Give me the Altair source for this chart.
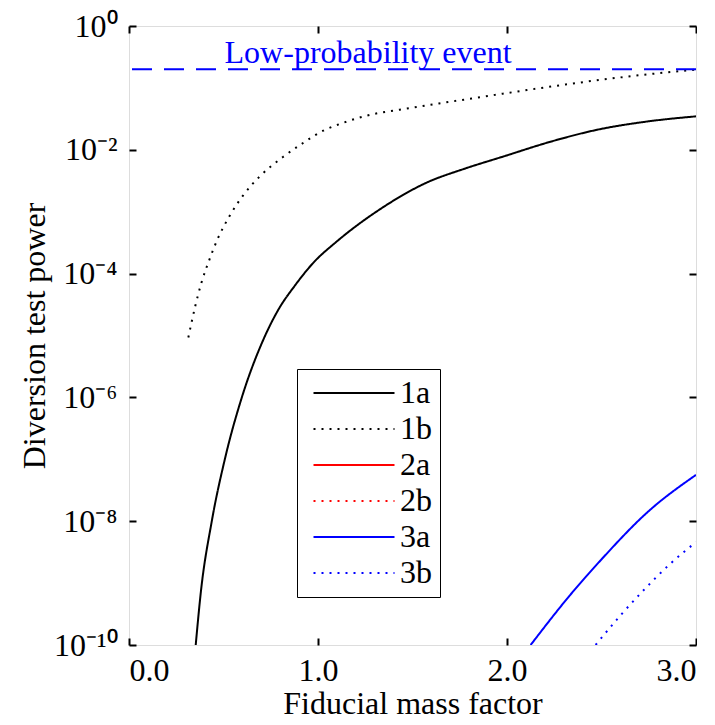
import altair as alt
import pandas as pd

FONT = "Liberation Serif"

series_names = ["1a", "1b", "2a", "2b", "3a", "3b"]
series_colors = ["#000000", "#000000", "#ff0000", "#ff0000", "#0000ff", "#0000ff"]
series_dashes = [[1, 0], [2, 6], [1, 0], [2, 6], [1, 0], [2, 6]]

x_1a = [0.353, 0.380, 0.438, 0.507, 0.597, 0.705, 0.793, 0.876, 0.980, 1.094, 1.329, 1.575, 1.78, 1.984, 2.23, 2.478, 2.74, 3.00]
y_1a = [1e-10, 7.1e-10, 1e-8, 1e-7, 1e-6, 7.8e-6, 2.7e-5, 6.3e-5, 1.55e-4, 3.2e-4, 1.10e-3, 2.95e-3, 5.0e-3, 7.85e-3, 1.35e-2, 2.11e-2, 2.86e-2, 3.47e-2]

x_1b = [0.314, 0.351, 0.384, 0.426, 0.469, 0.532, 0.603, 0.695, 0.813, 0.926, 1.028, 1.136, 1.243, 1.50, 1.772, 2.04, 2.302, 2.725, 3.00]
y_1b = [9.3e-6, 3.02e-5, 7.24e-5, 1.70e-4, 3.63e-4, 8.51e-4, 1.82e-3, 3.80e-3, 7.59e-3, 1.32e-2, 2.04e-2, 2.75e-2, 3.47e-2, 4.79e-2, 6.46e-2, 8.61e-2, 0.1127, 0.1633, 0.1968]

# series 2a / 2b lie entirely below the plotted range
x_2a, y_2a = [], []
x_2b, y_2b = [], []

x_3a = [2.125, 2.33, 2.499, 2.749, 3.00]
y_3a = [1e-10, 6.2e-10, 2.4e-9, 1.45e-8, 5.6e-8]

x_3b = [2.469, 2.60, 2.725, 2.86, 3.00]
y_3b = [1e-10, 3.0e-10, 7.8e-10, 2.0e-9, 4.6e-9]

threshold_value = [0.2]
threshold_label = ["Low-probability event"]
threshold_label_x = [1.265]

x_ticks = [0, 1, 2, 3]
y_ticks = [1, 1e-2, 1e-4, 1e-6, 1e-8, 1e-10]
y_tick_labels_by_exp = ["10⁰", "10⁻¹", "10⁻²", "10⁻³", "10⁻⁴", "10⁻⁵",
                        "10⁻⁶", "10⁻⁷", "10⁻⁸", "10⁻⁹", "10⁻¹⁰"]

rows = []
for name, xs, ys in [("1a", x_1a, y_1a), ("1b", x_1b, y_1b), ("2a", x_2a, y_2a),
                     ("2b", x_2b, y_2b), ("3a", x_3a, y_3a), ("3b", x_3b, y_3b)]:
    for i, (xv, yv) in enumerate(zip(xs, ys)):
        rows.append({"series": name, "x": xv, "y": yv, "order": i})
df = pd.DataFrame(rows)

W, H = 567, 619

xscale = alt.Scale(domain=[0, 3], nice=False, zero=False)
yscale = alt.Scale(type="log", domain=[1e-10, 1], nice=False)

label_arr = "[" + ",".join("'" + s + "'" for s in y_tick_labels_by_exp) + "]"
label_expr = label_arr + "[round(-log(datum.value)/LN10)]"

color_scale = alt.Scale(domain=series_names, range=series_colors)
dash_scale = alt.Scale(domain=series_names, range=series_dashes)

legend = alt.Legend(
    orient="none", legendX=168, legendY=343, title=None,
    symbolType="M-4,0H4", symbolSize=410, symbolStrokeWidth=2,
    symbolOffset=33, labelOffset=30,
    labelFont=FONT, labelFontSize=32, labelColor="black",
    fillColor="white", strokeColor="black", padding=8, rowPadding=4,
)

lines = alt.Chart(df).mark_line(strokeWidth=2, clip=True, interpolate="monotone").encode(
    x=alt.X("x:Q", scale=xscale, axis=alt.Axis(
        orient="bottom", values=x_ticks, format=".1f", title="Fiducial mass factor",
        ticks=False, domain=False, grid=False, labelPadding=10, titlePadding=2,
        labelFont=FONT, labelFontSize=32, titleFont=FONT, titleFontSize=32,
        titleFontWeight="normal", labelColor="black", titleColor="black")),
    y=alt.Y("y:Q", scale=yscale, axis=alt.Axis(
        orient="left", values=y_ticks, labelExpr=label_expr, title="Diversion test power",
        ticks=False, domain=False, grid=False, labelPadding=12,
        labelFont=FONT, labelFontSize=32, titleFont=FONT, titleFontSize=32,
        titleFontWeight="normal", labelColor="black", titleColor="black",
        titleX=-78, titleY=H / 2, titleAngle=270, titleAlign="center", titleBaseline="bottom")),
    color=alt.Color("series:N", scale=color_scale, legend=legend),
    strokeDash=alt.StrokeDash("series:N", scale=dash_scale, legend=legend),
    order="order:Q",
)

tick_common = dict(labels=False, domain=False, grid=False, ticks=True, tickSize=7,
                   tickWidth=2, tickColor="black", title=None)

ticks_b = alt.Chart(df).mark_line(opacity=0).encode(
    x=alt.X("x:Q", scale=xscale, axis=alt.Axis(orient="top", offset=-H, values=x_ticks, **tick_common)),
    y=alt.Y("y:Q", scale=yscale, axis=alt.Axis(orient="right", offset=-W, values=y_ticks, **tick_common)),
    detail="series:N",
)
ticks_c = alt.Chart(df).mark_line(opacity=0).encode(
    x=alt.X("x:Q", scale=xscale, axis=alt.Axis(orient="bottom", offset=-H, values=x_ticks, **tick_common)),
    y=alt.Y("y:Q", scale=yscale, axis=alt.Axis(orient="left", offset=-W, values=y_ticks, **tick_common)),
    detail="series:N",
)

thr_df = pd.DataFrame({"y": threshold_value, "x": threshold_label_x, "label": threshold_label})
rule = alt.Chart(thr_df).mark_rule(color="#0000ff", strokeWidth=2, strokeDash=[20, 12]).encode(
    y=alt.Y("y:Q", scale=yscale, axis=None)
)
text = alt.Chart(thr_df).mark_text(color="#0000ff", font=FONT, fontSize=32, align="center",
                                   baseline="alphabetic", dy=-6).encode(
    x=alt.X("x:Q", scale=xscale, axis=None),
    y=alt.Y("y:Q", scale=yscale, axis=None),
    text="label:N",
)

chart = alt.layer(lines, ticks_b, ticks_c, rule, text).resolve_axis(
    x="independent", y="independent"
).properties(
    width=W, height=H, padding={"left": 10, "top": 2, "right": 0, "bottom": 0}
).configure_view(stroke="black", strokeWidth=2).configure(background="white")

chart.save("out.html", embed_options={"renderer": "svg", "actions": False})
